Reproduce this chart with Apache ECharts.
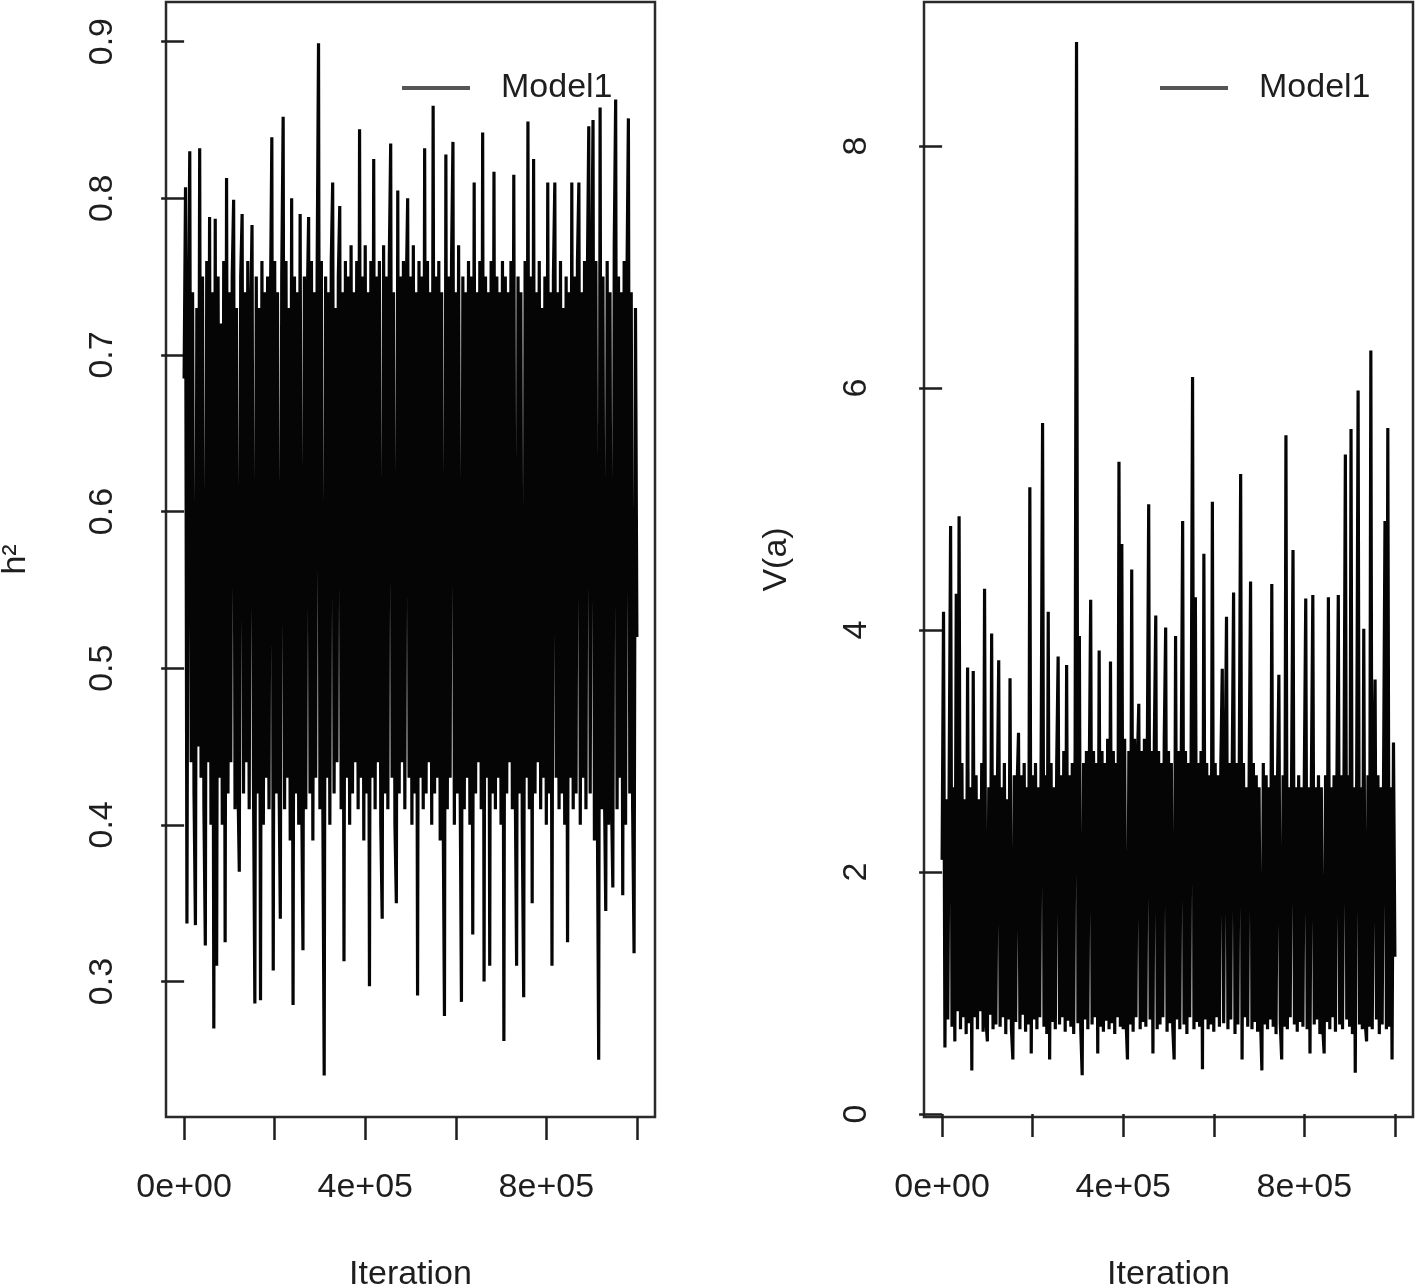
<!DOCTYPE html>
<html><head><meta charset="utf-8">
<script src="https://cdn.jsdelivr.net/npm/echarts@6.0.0/dist/echarts.min.js"></script>
<style>html,body{margin:0;padding:0;background:#fff}#c{width:1416px;height:1287px}</style>
</head><body><div id="c"></div>
<script>
const seriesName = 'Model1';
const sampleStep = 3125; // iterations between stored samples (thinning)
const xAxisName = 'Iteration';
const yNames = ['h\u00B2', 'V(a)'];

// h^2 trace
const h2Values = [
0.685,0.807,0.337,0.72,0.830,0.44,0.74,0.42,0.336,0.73,0.45,0.832,0.43,0.75,0.41,0.323,0.76,0.44,0.788,0.40,
0.74,0.270,0.787,0.31,0.75,0.43,0.72,0.40,0.76,0.325,0.813,0.42,0.74,0.44,0.75,0.799,0.41,0.73,0.43,0.37,
0.75,0.79,0.42,0.74,0.44,0.76,0.41,0.72,0.783,0.43,0.286,0.75,0.42,0.73,0.288,0.76,0.40,0.74,0.43,0.75,
0.41,0.73,0.839,0.307,0.76,0.42,0.74,0.44,0.34,0.75,0.852,0.41,0.76,0.43,0.73,0.39,0.80,0.285,0.75,0.42,
0.74,0.40,0.79,0.43,0.32,0.75,0.41,0.73,0.788,0.42,0.76,0.39,0.74,0.43,0.75,0.899,0.41,0.76,0.42,0.240,
0.75,0.43,0.74,0.40,0.76,0.81,0.42,0.73,0.44,0.75,0.795,0.41,0.74,0.313,0.76,0.43,0.75,0.40,0.77,0.42,
0.74,0.44,0.76,0.41,0.844,0.43,0.75,0.39,0.77,0.42,0.74,0.297,0.76,0.43,0.825,0.41,0.75,0.44,0.76,0.40,
0.34,0.77,0.42,0.75,0.41,0.76,0.835,0.43,0.74,0.40,0.35,0.805,0.42,0.75,0.44,0.76,0.41,0.74,0.80,0.43,
0.75,0.40,0.77,0.42,0.74,0.291,0.76,0.43,0.75,0.41,0.832,0.42,0.76,0.44,0.74,0.40,0.859,0.42,0.75,0.43,
0.76,0.39,0.74,0.42,0.278,0.828,0.41,0.75,0.43,0.76,0.836,0.40,0.74,0.42,0.77,0.44,0.287,0.75,0.41,0.74,
0.43,0.76,0.40,0.75,0.33,0.81,0.42,0.74,0.44,0.76,0.41,0.842,0.30,0.75,0.43,0.74,0.31,0.76,0.42,0.817,
0.41,0.75,0.43,0.74,0.40,0.76,0.262,0.75,0.42,0.74,0.44,0.76,0.41,0.815,0.43,0.31,0.75,0.42,0.74,0.40,
0.29,0.76,0.43,0.849,0.41,0.75,0.35,0.825,0.42,0.74,0.44,0.76,0.41,0.73,0.43,0.75,0.40,0.81,0.42,0.74,
0.31,0.75,0.81,0.43,0.74,0.41,0.76,0.42,0.73,0.40,0.75,0.325,0.74,0.43,0.81,0.41,0.75,0.42,0.76,0.81,
0.40,0.74,0.43,0.76,0.41,0.75,0.846,0.42,0.74,0.85,0.39,0.76,0.42,0.25,0.858,0.41,0.75,0.43,0.345,0.76,
0.40,0.74,0.42,0.36,0.77,0.863,0.41,0.75,0.43,0.74,0.355,0.76,0.40,0.75,0.851,0.42,0.74,0.41,0.318,0.73,
0.52
];

// V(a) trace
const vaValues = [
2.1,4.15,0.55,2.6,0.78,2.8,4.86,0.72,2.7,0.6,4.3,0.85,4.94,0.7,2.9,0.8,2.6,0.66,3.69,0.75,
2.7,0.36,3.66,0.8,2.8,0.7,2.6,0.85,2.9,0.68,4.34,0.77,0.6,2.7,0.82,3.97,0.7,2.8,0.74,2.6,
3.75,0.72,2.7,0.8,2.9,0.66,2.6,0.78,3.6,0.7,0.45,2.8,0.76,2.7,3.15,0.7,2.8,0.82,2.9,0.68,
2.7,0.74,5.18,0.5,2.8,0.78,2.9,0.7,2.7,0.8,3.0,5.71,0.72,2.8,0.66,4.15,0.45,2.9,0.76,2.7,
0.7,2.9,3.78,0.74,2.8,0.8,3.0,0.68,3.71,0.77,2.8,0.72,2.9,0.66,3.0,8.86,0.75,3.95,0.7,0.32,
2.9,0.78,3.0,0.7,2.8,4.25,0.74,3.0,0.8,2.9,0.5,3.83,0.72,3.0,0.68,2.9,0.77,3.1,0.7,3.74,
0.75,3.0,0.66,2.9,0.8,5.39,0.72,4.71,0.7,3.1,0.78,0.45,3.0,0.74,4.5,0.68,3.1,0.8,2.9,3.39,
0.7,3.0,0.76,3.1,0.72,2.9,5.04,0.78,3.0,0.5,3.1,4.12,0.7,3.0,0.74,2.9,0.8,3.1,4.02,0.68,
3.0,0.75,2.9,0.72,0.45,3.95,0.78,3.0,0.7,2.9,4.9,0.74,3.0,0.66,2.9,0.8,3.0,6.09,0.7,4.27,
0.76,2.9,0.72,3.0,0.37,4.63,0.78,2.9,0.7,2.8,0.74,5.06,0.68,2.9,0.8,2.8,0.72,2.9,3.68,0.75,
2.8,4.11,0.7,2.9,0.78,2.8,4.31,0.66,2.9,0.74,2.8,5.29,0.45,2.9,0.8,2.7,0.72,2.8,4.4,0.7,
2.9,0.76,2.8,0.68,2.7,0.8,0.36,2.9,0.74,2.8,0.7,2.7,0.78,4.38,0.72,2.8,0.66,2.7,3.63,0.75,
0.45,2.8,0.72,5.61,0.7,2.7,0.8,2.8,4.66,0.74,2.7,0.68,2.8,0.76,2.7,0.72,2.8,4.26,0.7,2.7,
0.5,2.8,4.29,0.74,2.7,0.78,2.8,0.66,2.7,0.72,0.5,2.8,0.76,4.27,0.7,2.7,0.8,2.8,0.68,2.7,
4.29,0.74,2.8,0.7,2.7,5.45,0.78,2.8,0.72,5.66,0.66,2.7,0.34,2.8,5.98,0.74,2.7,0.7,4.01,0.76,
0.6,2.8,0.72,6.31,0.7,2.7,3.59,0.78,2.8,0.66,2.7,0.74,2.8,4.9,0.7,5.67,0.72,2.7,0.45,3.07,
1.3
];

const xTickValues = [0, 200000, 400000, 600000, 800000, 1000000];
const xLabelValues = [0, 400000, 800000];
const xLabelTexts = ['0e+00', '4e+05', '8e+05'];
const h2TickValues = [0.3, 0.4, 0.5, 0.6, 0.7, 0.8, 0.9];
const vaTickValues = [0, 2, 4, 6, 8];

const FONT = "'Liberation Sans', Arial, Helvetica, sans-serif";
const INK = '#1e1e1e';

function toPairs(vals) { return vals.map((v, i) => [i * sampleStep, v]); }

function xAxisCfg(gi) {
  return {
    type: 'value', gridIndex: gi, min: -40000, max: 1040000,
    axisLine: { show: false }, splitLine: { show: false },
    axisTick: { show: true, length: 23, lineStyle: { color: INK, width: 2.5 }, customValues: xTickValues },
    axisLabel: {
      customValues: xLabelValues,
      formatter: v => xLabelTexts[xLabelValues.indexOf(v)],
      fontSize: 34, color: INK, fontFamily: FONT, margin: 54
    },
    name: xAxisName, nameLocation: 'middle', nameGap: 141,
    nameTextStyle: { fontSize: 34, color: INK, fontFamily: FONT }
  };
}
function yAxisCfg(gi, min, max, ticks, name, labelMargin, nameGap) {
  return {
    type: 'value', gridIndex: gi, min: min, max: max,
    axisLine: { show: false }, splitLine: { show: false },
    axisTick: { show: true, length: 23, lineStyle: { color: INK, width: 2.5 }, customValues: ticks },
    axisLabel: {
      customValues: ticks, rotate: 90,
      formatter: v => String(v),
      fontSize: 34, color: INK, fontFamily: FONT, margin: labelMargin
    },
    name: name, nameLocation: 'middle', nameGap: nameGap,
    nameTextStyle: { fontSize: 34, color: INK, fontFamily: FONT }
  };
}
function legendCfg(left) {
  return {
    left: left, top: 66, data: [seriesName], selectedMode: false,
    icon: 'rect', itemWidth: 68, itemHeight: 4, itemStyle: { color: '#555' },
    textStyle: { fontSize: 34, color: INK, fontFamily: FONT, padding: [0, 0, 0, 26] }
  };
}

const chart = echarts.init(document.getElementById('c'), null, { renderer: 'canvas' });
chart.setOption({
  animation: false,
  backgroundColor: '#fff',
  grid: [
    { left: 166, top: 2, width: 489, height: 1115, show: true, borderColor: '#2a2a2a', borderWidth: 2.5, containLabel: false, outerBoundsMode: 'none' },
    { left: 924, top: 2, width: 489, height: 1115, show: true, borderColor: '#2a2a2a', borderWidth: 2.5, containLabel: false, outerBoundsMode: 'none' }
  ],
  xAxis: [xAxisCfg(0), xAxisCfg(1)],
  yAxis: [
    yAxisCfg(0, 0.2135, 0.9253, h2TickValues, yNames[0], 46, 133),
    yAxisCfg(1, -0.025, 9.19, vaTickValues, yNames[1], 50, 130)
  ],
  legend: [legendCfg(397), legendCfg(1155)],
  series: [
    { name: seriesName, type: 'line', xAxisIndex: 0, yAxisIndex: 0, data: toPairs(h2Values),
      symbol: 'none', showSymbol: false, lineStyle: { color: '#050505', width: 3.2, join: 'bevel' }, itemStyle: { color: '#050505' } },
    { name: seriesName, type: 'line', xAxisIndex: 1, yAxisIndex: 1, data: toPairs(vaValues),
      symbol: 'none', showSymbol: false, lineStyle: { color: '#050505', width: 3.2, join: 'bevel' }, itemStyle: { color: '#050505' } }
  ]
});
</script></body></html>
